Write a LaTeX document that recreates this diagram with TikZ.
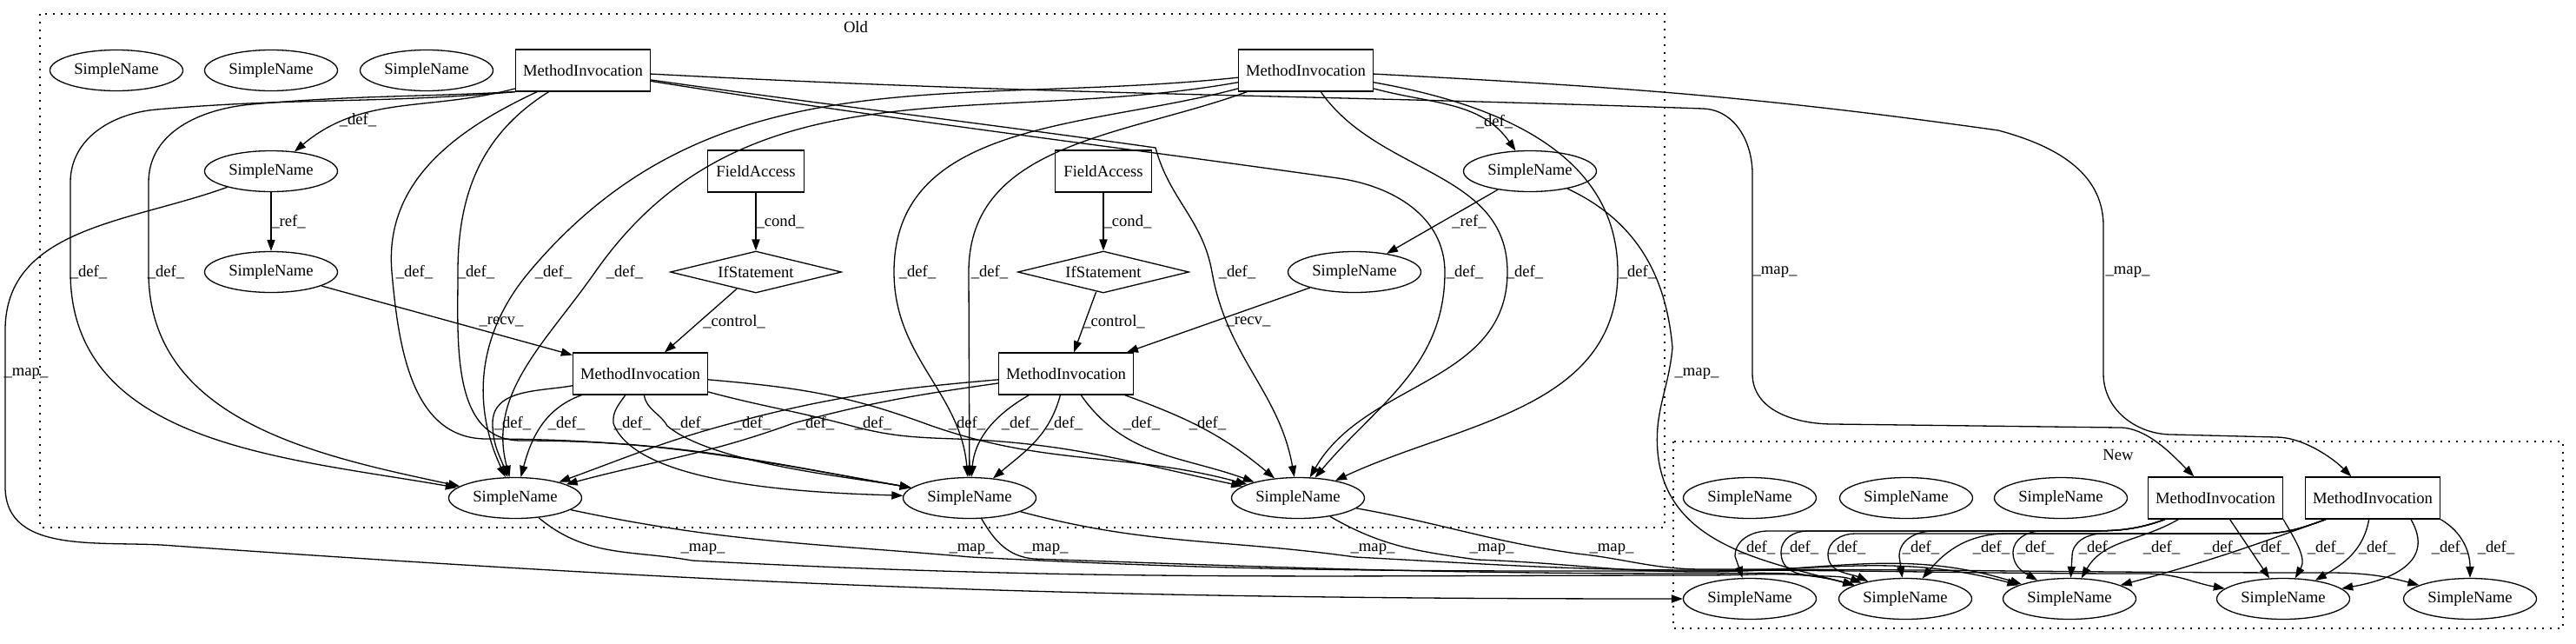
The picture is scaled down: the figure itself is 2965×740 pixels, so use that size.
\documentclass[tikz,border=0pt]{standalone}
\usepackage{fontspec}
\setmainfont{Liberation Serif}
\usetikzlibrary{shapes.geometric,arrows.meta}
\begin{document}
\begin{tikzpicture}[x=0.5pt,y=0.5pt,
  every node/.style={font=\fontsize{9.33}{11.2}\selectfont},
  sn/.style={draw,ellipse,line width=0.65pt,minimum width=76.5pt,minimum height=23.5pt,inner sep=0pt},
  mi/.style={draw,rectangle,line width=0.65pt,minimum width=77.5pt,minimum height=24pt,inner sep=0pt},
  fa/.style={draw,rectangle,line width=0.65pt,minimum width=55.5pt,minimum height=24pt,inner sep=0pt},
  ifs/.style={draw,diamond,line width=0.65pt,minimum width=98.5pt,minimum height=24pt,inner sep=0pt,aspect=4},
  edg/.style={draw,line width=0.65pt,-{Triangle[length=6.5pt,width=4.6pt]}},
  lbl/.style={inner sep=0pt},
  clu/.style={draw,line width=0.65pt,dash pattern=on 0.8pt off 3.7pt}]
\path[use as bounding box] (0,0) rectangle (2965,-740);
% clusters
\draw[clu] (46,-16) rectangle (1916,-607);
\node (oldlbl) at (985,-31) {Old};
\draw[clu] (1926,-508) rectangle (2950,-723);
\node (newlbl) at (2438,-523) {New};
% Old nodes
\node[sn] (A1) at (134,-81) {SimpleName};
\node[sn] (A2) at (312,-81) {SimpleName};
\node[sn] (A3) at (491,-81) {SimpleName};
\node[mi] (M1) at (671,-81) {MethodInvocation};
\node[mi] (M2) at (1503,-81) {MethodInvocation};
\node[sn] (B1) at (312,-197) {SimpleName};
\node[fa] (F1) at (870,-197) {FieldAccess};
\node[fa] (F2) at (1270,-197) {FieldAccess};
\node[sn] (B2) at (1761,-197) {SimpleName};
\node[sn] (C1) at (312,-313) {SimpleName};
\node[ifs] (I1) at (870,-313) {IfStatement};
\node[ifs] (I2) at (1270,-313) {IfStatement};
\node[sn] (C2) at (1559,-313) {SimpleName};
\node[mi] (M3) at (737,-430) {MethodInvocation};
\node[mi] (M4) at (1227,-430) {MethodInvocation};
\node[sn] (D1) at (593,-573) {SimpleName};
\node[sn] (D2) at (1116,-573) {SimpleName};
\node[sn] (D3) at (1494,-573) {SimpleName};
% New nodes
\node[sn] (N1) at (2014,-573) {SimpleName};
\node[sn] (N2) at (2194,-573) {SimpleName};
\node[sn] (N3) at (2372,-573) {SimpleName};
\node[mi] (NM1) at (2550,-573) {MethodInvocation};
\node[mi] (NM2) at (2731,-573) {MethodInvocation};
\node[sn] (NS1) at (2014,-689) {SimpleName};
\node[sn] (NS2) at (2193,-689) {SimpleName};
\node[sn] (NS3) at (2382,-689) {SimpleName};
\node[sn] (NS4) at (2628,-689) {SimpleName};
\node[sn] (NS5) at (2843,-689) {SimpleName};
% ---- Old edges: M1
\draw[edg] (M1) to[out=195,in=40] (B1);
\draw[edg] (M1.south west) to[out=185,in=5] (180,-126) to[out=185,in=90] (81,-210) -- (81,-313) to[out=-90,in=170] (D1);
\draw[edg] (M1.south west) to[out=183,in=5] (290,-120) to[out=185,in=90] (171,-210) -- (171,-313) to[out=-90,in=168] (D1);
\draw[edg] (M1) to[out=205,in=95] (451,-313) to[out=-85,in=180] (560,-505) to[out=0,in=170] (D2);
\draw[edg] (M1) to[out=212,in=90] (527,-313) to[out=-90,in=180] (600,-507) to[out=0,in=170] (D2);
\draw[edg] (M1) to[out=-8,in=172] (1330,-170) to[out=-75,in=100] (1395,-313) to[out=-80,in=100] (D3);
\draw[edg] (M1) to[out=-9,in=172] (1540,-205) to[out=-8,in=90] (1663,-313) to[out=-90,in=50] (D3);
\draw[edg] (M1) to[out=-3,in=178] (1960,-125) to[out=-2,in=90] (2017,-200) -- (2017,-430) to[out=-90,in=180] (2110,-488) -- (2440,-492) to[out=0,in=135,looseness=0.8] (NM1);
% M2
\draw[edg] (M2) to[out=186,in=50] (609,-313) to[out=-130,in=115] (D1);
\draw[edg] (M2) to[out=190,in=55] (685,-313) to[out=-125,in=105] (D1);
\draw[edg] (M2) to[out=195,in=90] (1029,-313) to[out=-90,in=95] (D2);
\draw[edg] (M2) to[out=200,in=90] (1115,-313) -- (D2);
\draw[edg] (M2) to[out=-55,in=90] (1735,-313) to[out=-90,in=60] (D3);
\draw[edg] (M2) to[out=-10,in=90] (1862,-313) to[out=-90,in=25] (D3);
\draw[edg] (M2) to[out=-15,in=125] (B2);
\draw[edg] (M2) to[out=-3,in=172] (2300,-150) to[out=-15,in=90] (2421,-260) -- (2421,-430) to[out=-90,in=180] (2500,-500) -- (2620,-503) to[out=0,in=135,looseness=0.8] (NM2);
% simple chains
\draw[edg] (B1) -- (C1);
\draw[edg] (C1) -- (M3);
\draw[edg] (F1) -- (I1);
\draw[edg] (I1) -- (M3);
\draw[edg] (F2) -- (I2);
\draw[edg] (I2) -- (M4);
\draw[edg] (B2) -- (C2);
\draw[edg] (C2) -- (M4);
% maps
\draw[edg] (B1) to[out=200,in=90] (6,-380) -- (6,-560) to[out=-90,in=175] (200,-628) to[out=-4,in=180] (NS1);
\draw[edg] (B2) to[out=-25,in=95] (1925,-400) to[out=-95,in=95] (1908,-520) to[out=-85,in=165] (NS2);
\draw[edg] (D1) to[out=-40,in=170] (797,-645) to[out=-3,in=180] (1960,-662) to[out=0,in=165] (NS2);
\draw[edg] (D1) to[out=-12,in=175] (1118,-641) to[out=-3,in=180] (1960,-657) to[out=0,in=165] (NS3);
\draw[edg] (D2) to[out=-60,in=175] (1190,-643) to[out=-2,in=180] (1960,-660) to[out=0,in=165] (NS2);
\draw[edg] (D2) to[out=-15,in=172] (1560,-641) to[out=-3,in=180] (1960,-656) to[out=0,in=180] (2470,-660) to[out=0,in=170] (NS4);
\draw[edg] (D3) to[out=-30,in=172] (1700,-644) to[out=-2,in=180] (1960,-658) to[out=0,in=163] (NS3);
\draw[edg] (D3) to[out=-10,in=172] (1815,-637) to[out=-6,in=180] (1960,-655) to[out=0,in=180] (2680,-659) to[out=0,in=165] (NS5);
% M3
\draw[edg] (M3) to[out=190,in=90] (567,-487) to[out=-90,in=110] (D1);
\draw[edg] (M3) to[out=200,in=75] (D1);
\draw[edg] (M3) to[out=-125,in=95] (706,-487) to[out=-70,in=178,looseness=0.6] (D2);
\draw[edg] (M3) to[out=-80,in=120] (768,-490) to[out=-40,in=170,looseness=0.6] (D2);
\draw[edg] (M3) to[out=-15,in=165] (980,-490) to[out=-15,in=178] (1100,-505) to[out=-2,in=168] (D3);
\draw[edg] (M3) to[out=-5,in=160] (1064,-487) to[out=-20,in=165] (D3);
% M4
\draw[edg] (M4) to[out=185,in=15] (842,-487) to[out=-165,in=20] (D1);
\draw[edg] (M4) to[out=188,in=15] (913,-487) to[out=-160,in=15] (D1);
\draw[edg] (M4) to[out=-150,in=85] (D2);
\draw[edg] (M4) to[out=-105,in=40] (D2);
\draw[edg] (M4) to[out=-55,in=160] (D3);
\draw[edg] (M4) to[out=-20,in=140] (D3);
% ---- New edges
\draw[edg] ([xshift=10pt]NM1.south west) to[out=200,in=0] (2400,-611) -- (2035,-611) to[out=180,in=90] (1997,-640) -- (NS1);
\draw[edg] ([xshift=10pt]NM1.south west) to[out=200,in=0] (2400,-611) -- (2080,-611) to[out=180,in=90] (2050,-635) to[out=-90,in=160] (NS2);
\draw[edg] ([xshift=12pt]NM2.south west) to[out=200,in=0] (2600,-614) -- (2135,-614) to[out=180,in=90] (2104,-638) to[out=-90,in=155] (NS2);
\draw[edg] ([xshift=10pt]NM1.south west) to[out=200,in=0] (2400,-611) -- (2225,-611) to[out=180,in=90] (2186,-640) -- (NS2);
\draw[edg] ([xshift=12pt]NM2.south west) to[out=200,in=0] (2600,-614) -- (2310,-614) to[out=180,in=50] (NS2);
\draw[edg] ([xshift=10pt]NM1.south west) to[out=200,in=0] (2400,-611) -- (2350,-611) to[out=180,in=90] (2317,-636) to[out=-90,in=150] (NS3);
\draw[edg] ([xshift=12pt]NM2.south west) to[out=200,in=0] (2600,-614) -- (2420,-614) to[out=180,in=90] (2385,-640) -- (NS3);
\draw[edg] (NM1) to[out=210,in=60] (NS3);
\draw[edg] ([xshift=12pt]NM2.south west) to[out=200,in=15] (NS3);
\draw[edg] (NM1) -- (NS4);
\draw[edg] (NM1.south east) to[out=-60,in=60] (NS4);
\draw[edg] (NM2) to[out=-100,in=30] (NS4);
\draw[edg] ([xshift=22pt]NM2.south) to[out=-60,in=10,looseness=1.3] (NS4);
\draw[edg] (NM2.south east) to[out=-30,in=90] (NS5);
% ---- labels
\foreach \x [count=\i] in {102,191,477,548,637,719,1056,1139,1424,1686,1755,1885}
  \node[lbl] (la\i) at (\x,-313) {\_def\_};
\foreach \x [count=\i] in {590,652,728,795,866,939,1005,1113,1174,1225,1314,1390}
  \node[lbl] (lb\i) at (\x,-487) {\_def\_};
\foreach \x [count=\i] in {809,1118,1204,1580,1717,1855}
  \node[lbl] (lc\i) at (\x,-632) {\_map\_};
\foreach \x [count=\i] in {2022,2072,2126,2211,2292,2343,2414,2488,2558,2614,2677,2736,2820,2873}
  \node[lbl] (ld\i) at (\x,-630) {\_def\_};
\node[lbl] (lm1) at (2043,-313) {\_map\_};
\node[lbl] (lm2) at (2449,-313) {\_map\_};
\node[lbl] (lm3) at (30,-430) {\_map\_};
\node[lbl] (lm4) at (1953,-430) {\_map\_};
\node[lbl] (le1) at (412,-138) {\_def\_};
\node[lbl] (le2) at (1720,-140) {\_def\_};
\node[lbl] (lr1) at (332,-255) {\_ref\_};
\node[lbl] (lr2) at (1691,-255) {\_ref\_};
\node[lbl] (lk1) at (898,-255) {\_cond\_};
\node[lbl] (lk2) at (1298,-255) {\_cond\_};
\node[lbl] (lv1) at (577,-370) {\_recv\_};
\node[lbl] (lv2) at (1437,-370) {\_recv\_};
\node[lbl] (lt1) at (845,-370) {\_control\_};
\node[lbl] (lt2) at (1282,-370) {\_control\_};
\end{tikzpicture}
\end{document}
